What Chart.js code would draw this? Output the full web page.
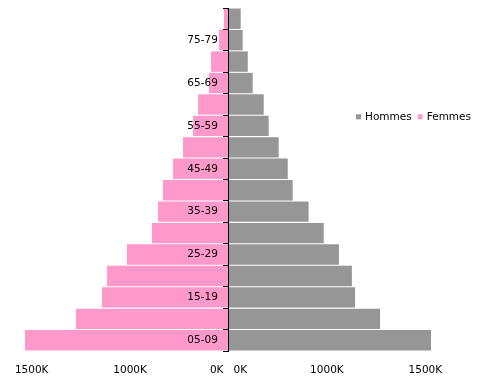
<!DOCTYPE html>
<html><head><meta charset="utf-8">
<script src="https://cdn.jsdelivr.net/npm/chart.js@4"></script>
<style>html,body{margin:0;padding:0;background:#fff}</style>
</head><body>
<canvas id="c" width="484" height="381"></canvas>
<script>
const ageGroups = ['05-09','10-14','15-19','20-24','25-29','30-34','35-39','40-44','45-49','50-54','55-59','60-64','65-69','70-74','75-79','80+'];
const hommes = [1029000, 770000, 643000, 627000, 561000, 484000, 407000, 326000, 301000, 255000, 204000, 179000, 123000, 98000, 72000, 62000];
const femmes = [1034000, 775000, 643000, 617000, 516000, 389000, 358000, 333000, 282000, 231000, 180000, 155000, 99000, 89000, 48000, 23000];
const xTickValues = [-1000000, -500000, 0, 500000, 1000000];
const xTickLabels = ['1500K', '1000K', '0K   0K', '1000K', '1500K'];

const FONT = {family: '"DejaVu Sans", sans-serif', size: 10.5};

const insideLegend = {
  id: 'insideLegend',
  afterDraw(chart) {
    const c = chart.ctx, a = chart.chartArea;
    c.save();
    c.font = '10.5px "DejaVu Sans", sans-serif';
    c.textBaseline = 'middle';
    c.textAlign = 'left';
    let x = a.right - 89;
    const y = a.top + 108.8;
    chart.data.datasets.forEach(ds => {
      c.fillStyle = ds.backgroundColor;
      c.fillRect(x, y - 2.5, 5, 5);
      c.fillStyle = '#000';
      c.fillText(ds.label, x + 9, y);
      x += 9 + c.measureText(ds.label).width + 6;
    });
    c.restore();
  }
};

new Chart(document.getElementById('c'), {
  type: 'bar',
  data: {
    labels: ageGroups,
    datasets: [
      {label: 'Hommes', data: hommes, backgroundColor: '#969696', borderWidth: 0, barPercentage: 0.95, categoryPercentage: 1},
      {label: 'Femmes', data: femmes.map(v => -v), backgroundColor: '#FF99CC', borderWidth: 0, barPercentage: 0.95, categoryPercentage: 1}
    ]
  },
  options: {
    indexAxis: 'y',
    responsive: false,
    animation: false,
    layout: {padding: {left: 12, right: 39, top: 8, bottom: 0}},
    plugins: {legend: {display: false}, tooltip: {enabled: false}},
    scales: {
      x: {
        stacked: true, min: -1100000, max: 1100000, position: 'bottom',
        grid: {display: false, drawTicks: false},
        border: {display: false},
        afterBuildTicks: s => { s.ticks = xTickValues.map(v => ({value: v})); },
        afterFit: s => { s.height = 30; },
        ticks: {
          autoSkip: false, maxRotation: 0, padding: 13, color: '#000', font: FONT,
          callback: (v, i) => xTickLabels[i]
        }
      },
      y: {
        stacked: true, reverse: true, position: {x: 0},
        grid: {drawOnChartArea: false, drawTicks: true, tickLength: 5, color: '#000', offset: true, z: 1},
        border: {display: true, color: '#000', width: 1, z: 1},
        afterFit: s => { s.paddingTop = 0; s.paddingBottom = 0; },
        ticks: {autoSkip: false, font: FONT, callback: () => ''}
      },
      yLabels: {
        axis: 'y', type: 'category', labels: ageGroups, reverse: true, offset: true,
        position: {x: -54000},
        grid: {display: false}, border: {display: false},
        afterFit: s => { s.paddingTop = 0; s.paddingBottom = 0; },
        ticks: {
          autoSkip: false, color: '#000', font: FONT, z: 1,
          callback: (v, i) => (i % 2 === 0 ? ageGroups[i] : '')
        }
      }
    }
  },
  plugins: [insideLegend]
});
</script>
</body></html>
